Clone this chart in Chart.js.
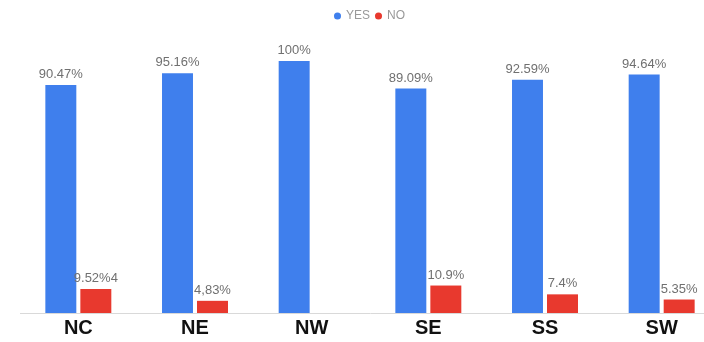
<!DOCTYPE html>
<html>
<head>
<meta charset="utf-8">
<script src="https://cdn.jsdelivr.net/npm/chart.js@4"></script>
<style>
    html, body { margin: 0; padding: 0; background: #fff; overflow: hidden; }
    #wrap { width: 704px; height: 342px; overflow: hidden; }
</style>
</head>
<body>
<div id="wrap"><canvas id="regionChart" width="720" height="342"></canvas></div>
<script>
const categories = ['NC', 'NE', 'NW', 'SE', 'SS', 'SW'];
const yesValues = [90.47, 95.16, 100, 89.09, 92.59, 94.64];
const noValues = [9.52, 4.83, null, 10.9, 7.4, 5.35];
const yesLabels = ['90.47%', '95.16%', '100%', '89.09%', '92.59%', '94.64%'];
const noLabels = ['9.52%4', '4,83%', '', '10.9%', '7.4%', '5.35%'];

// value text above each bar
const barLabels = {
    id: 'barLabels',
    afterDatasetsDraw(chart) {
        const ctx = chart.ctx;
        const texts = [yesLabels, noLabels];
        ctx.save();
        ctx.font = '13px "Liberation Sans", Arial, sans-serif';
        ctx.fillStyle = '#707070';
        ctx.textAlign = 'center';
        ctx.textBaseline = 'bottom';
        chart.data.datasets.forEach((ds, i) => {
            chart.getDatasetMeta(i).data.forEach((bar, j) => {
                if (ds.data[j] == null || !texts[i][j]) return;
                ctx.fillText(texts[i][j], bar.x, bar.y - 4);
            });
        });
        ctx.restore();
    }
};

// extra room under the legend
const legendGap = {
    id: 'legendGap',
    beforeInit(chart) {
        const fit = chart.legend.fit;
        chart.legend.fit = function () {
            fit.call(this);
            this.height += 29;
        };
    }
};

const ctx = document.getElementById('regionChart').getContext('2d');
const regionChart = new Chart(ctx, {
    type: 'bar',
    data: {
        labels: categories,
        datasets: [{
            label: 'YES',
            data: yesValues,
            backgroundColor: '#3f7fed',
            categoryPercentage: 0.6,
            barPercentage: 0.885
        }, {
            label: 'NO',
            data: noValues,
            backgroundColor: '#e8392e',
            categoryPercentage: 0.6,
            barPercentage: 0.885
        }]
    },
    options: {
        responsive: false,
        animation: false,
        layout: {
            padding: { left: 20, right: 0, top: 4, bottom: -1 }
        },
        plugins: {
            legend: {
                position: 'top',
                labels: {
                    usePointStyle: true,
                    pointStyle: 'circle',
                    boxWidth: 5,
                    boxHeight: 5,
                    padding: 6,
                    color: '#999',
                    font: { size: 12, family: '"Liberation Sans", Arial, sans-serif' }
                }
            },
            tooltip: { enabled: false }
        },
        scales: {
            y: {
                display: false,
                min: 0,
                max: 100
            },
            x: {
                grid: { display: false, drawTicks: false },
                border: { color: '#d9d9d9' },
                ticks: {
                    color: '#111',
                    padding: 5,
                    font: { size: 20, weight: 'bold', lineHeight: 1, family: '"Liberation Sans", Arial, sans-serif' }
                }
            }
        }
    },
    plugins: [barLabels, legendGap]
});
</script>
</body>
</html>
